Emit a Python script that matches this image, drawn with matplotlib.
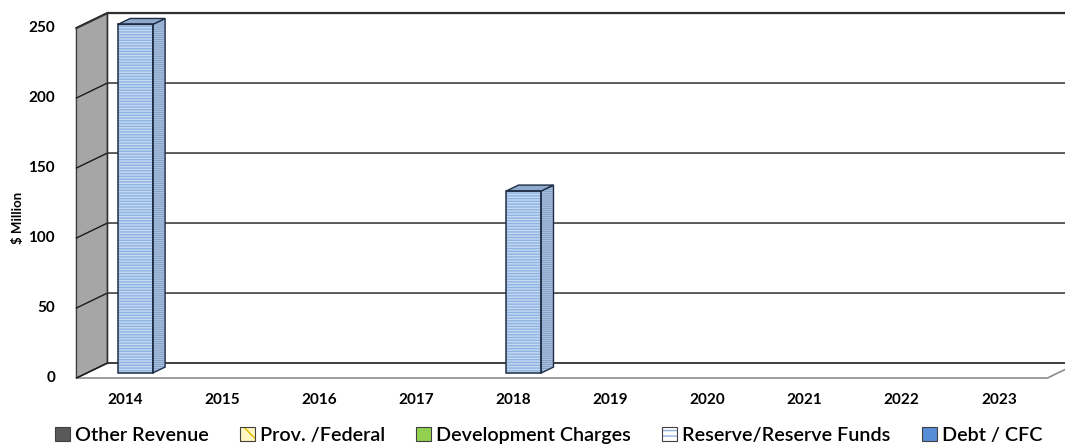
import numpy as np
import matplotlib.pyplot as plt
from matplotlib.patches import Polygon, Patch

plt.rcParams['font.family'] = ['Lato', 'DejaVu Sans']
plt.rcParams['hatch.linewidth'] = 1.0

# data
years = ['2014', '2015', '2016', '2017', '2018', '2019', '2020', '2021', '2022', '2023']
other_revenue = [0, 0, 0, 0, 0, 0, 0, 0, 0, 0]
prov_federal = [0, 0, 0, 0, 0, 0, 0, 0, 0, 0]
dev_charges = [0, 0, 0, 0, 0, 0, 0, 0, 0, 0]
reserve_funds = [249, 0, 0, 0, 130, 0, 0, 0, 0, 0]
debt_cfc = [0, 0, 0, 0, 0, 0, 0, 0, 0, 0]
yticks = [0, 50, 100, 150, 200, 250]

series = [
    ('Other Revenue', other_revenue, dict(facecolor='#595959', hatch=None, hc='#595959', lh=None)),
    ('Prov. /Federal', prov_federal, dict(facecolor='#fff6c0', hatch='\\\\\\', hc='#e0b800', lh='\\\\')),
    ('Development Charges', dev_charges, dict(facecolor='#92d050', hatch=None, hc='#92d050', lh=None)),
    ('Reserve/Reserve Funds', reserve_funds, dict(facecolor='#c6d9f1', hatch='------', hc='#8db3e2', lh='---')),
    ('Debt / CFC', debt_cfc, dict(facecolor='#558ed5', hatch=None, hc='#558ed5', lh=None)),
]

# 3d-ish projection: depth offset of the back wall in data units
DX = 0.319
DY = 10.7
d0, d1 = 0.33, 0.73   # bar depth range
w = 0.36
x0, x1 = -0.5, 9.5
vmax = 250

def P(i, v, d):
    return (i + d * DX, v + d * DY)

fig = plt.figure(figsize=(10.65, 4.45), dpi=100)
ax = fig.add_axes([0, 0, 1, 1])
ax.set_xlim(-125 / 97.1, (1065 - 125) / 97.1)
ax.set_ylim(-67 / 1.4, 378 / 1.4)
ax.axis('off')

# floor
ax.add_patch(Polygon([P(x0, 0, 0), P(x1, 0, 0), P(x1, 0, 1), P(x0, 0, 1)],
                     closed=True, facecolor='white', edgecolor='#8c8c8c', lw=1.2, zorder=1))
# left wall
ax.add_patch(Polygon([P(x0, 0, 0), P(x0, 0, 1), P(x0, vmax, 1), P(x0, vmax, 0)],
                     closed=True, facecolor='#a6a6a6', edgecolor='#404040', lw=1, zorder=1))
# gridlines on wall + back wall
for v in yticks:
    a, b, c = P(x0, v, 0), P(x0, v, 1), P(x1, v, 1)
    lw = 1.6 if v == vmax else 1.0
    col = '#303030' if v == vmax else '#1a1a1a'
    ax.plot([a[0], b[0], c[0]], [a[1], b[1], c[1]], color=col, lw=lw, zorder=2)
b0, b1 = P(x0, 0, 1), P(x0, vmax, 1)
ax.plot([b0[0], b1[0]], [b0[1], b1[1]], color='#303030', lw=1, zorder=2)

# bars
x = np.arange(len(years))
bottom = np.zeros(len(years))
for name, vals, st in series:
    vals = np.array(vals, dtype=float)
    for k in range(len(years)):
        if vals[k] <= 0:
            continue
        xl = x[k] - w / 2
        xr = x[k] + w / 2
        lo = bottom[k]
        hi = bottom[k] + vals[k]
        # side face
        side = [P(xr, lo, d0), P(xr, lo, d1), P(xr, hi, d1), P(xr, hi, d0)]
        ax.add_patch(Polygon(side, closed=True, facecolor='#7896c0', edgecolor='#a9c0de',
                             hatch='--------', lw=0, zorder=3))
        ax.add_patch(Polygon(side, closed=True, fill=False, edgecolor='#1f2d44', lw=1, zorder=4))
        # top face
        top = [P(xl, hi, d0), P(xr, hi, d0), P(xr, hi, d1), P(xl, hi, d1)]
        ax.add_patch(Polygon(top, closed=True, facecolor='#8ea9cc', edgecolor='#1f2d44', lw=1, zorder=4))
    fx = x + d0 * DX
    ax.bar(fx, vals, width=w, bottom=bottom + d0 * DY, color=st['facecolor'],
           edgecolor=st['hc'], hatch=st['hatch'], lw=0, zorder=3)
    ax.bar(fx, np.where(vals > 0, vals, np.nan), width=w, bottom=bottom + d0 * DY,
           fill=False, edgecolor='#1f2d44', lw=1.1, zorder=4)
    bottom += vals

# y tick labels
for v in yticks:
    ax.text(-0.72, v, str(v), ha='right', va='center', fontsize=11, fontweight='bold', color='black')
ax.text(-1.10, 114, '$ Million', rotation=90, ha='center', va='center', fontsize=9.5,
        fontweight='bold')
# category labels
for k, yr in enumerate(years):
    ax.text(x[k], -15.7, yr, ha='center', va='center', fontsize=11, fontweight='bold')

handles = []
for name, vals, st in series:
    fc = 'white' if st['lh'] == '---' else st['facecolor']
    fill = Patch(facecolor=fc, edgecolor=st['hc'], hatch=st['lh'], lw=0)
    edge = Patch(fill=False, edgecolor='#404040', lw=0.8)
    handles.append((fill, edge))
labels = [s[0] for s in series]
leg = fig.legend(handles=handles, labels=labels, loc='center', bbox_to_anchor=(0.515, 0.022), ncol=5,
                 frameon=False, fontsize=14.2, handlelength=0.75, handleheight=0.75,
                 handletextpad=0.25, columnspacing=1.6, borderpad=0)
for t in leg.get_texts():
    t.set_fontweight('semibold')

fig.savefig('out.png', dpi=100)
